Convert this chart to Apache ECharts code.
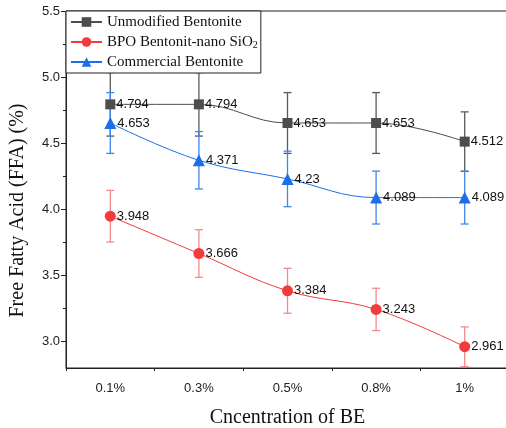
<!DOCTYPE html>
<html>
    <head>
        <meta charset="utf-8">
        <script src="https://cdn.jsdelivr.net/npm/echarts@6/dist/echarts.min.js"></script>
        <style>
            html, body { margin: 0; padding: 0; background: #fff; }
            #main { width: 506px; height: 428px; }
        </style>
    </head>
    <body>
        <div id="main"></div>
        <script>
            var categories = ['0.1%', '0.3%', '0.5%', '0.8%', '1%'];
            var unmodified = [4.794, 4.794, 4.653, 4.653, 4.512];
            var bpo = [3.948, 3.666, 3.384, 3.243, 2.961];
            var commercial = [4.653, 4.371, 4.23, 4.089, 4.089];
            var unmodifiedErr = [0.24, 0.24, 0.23, 0.23, 0.225];
            var bpoErr = [0.195, 0.18, 0.17, 0.16, 0.15];
            var commercialErr = [0.23, 0.217, 0.21, 0.2, 0.2];
            var majorY = [3.0, 3.5, 4.0, 4.5, 5.0, 5.5];
            var minorY = [3.25, 3.75, 4.25, 4.75, 5.25];

            var serif = '"Liberation Serif", "Times New Roman", serif';
            var sans = '"Liberation Sans", Arial, sans-serif';

            function errData(vals, errs) {
                return vals.map(function (v, i) {
                    return [i, v - errs[i], v + errs[i]];
                });
            }

            function errSeries(vals, errs, color) {
                return {
                    type: 'custom',
                    data: errData(vals, errs),
                    encode: {x: 0, y: [1, 2]},
                    z: 1,
                    silent: true,
                    renderItem: function (params, api) {
                        var lo = api.coord([api.value(0), api.value(1)]);
                        var hi = api.coord([api.value(0), api.value(2)]);
                        var style = {stroke: color, lineWidth: 1.3};
                        var w = 4;
                        return {
                            type: 'group',
                            children: [
                                {type: 'line', shape: {x1: lo[0], y1: lo[1], x2: hi[0], y2: hi[1]}, style: style},
                                {type: 'line', shape: {x1: lo[0] - w, y1: lo[1], x2: lo[0] + w, y2: lo[1]}, style: style},
                                {type: 'line', shape: {x1: hi[0] - w, y1: hi[1], x2: hi[0] + w, y2: hi[1]}, style: style}
                            ]
                        };
                    }
                };
            }

            function lineSeries(name, vals, color, symbol, size) {
                return {
                    name: name,
                    type: 'line',
                    data: vals,
                    smooth: 0.4,
                    symbol: symbol,
                    symbolSize: size,
                    z: 3,
                    itemStyle: {color: color},
                    lineStyle: {color: color, width: 1},
                    label: {
                        show: true,
                        position: 'right',
                        distance: 1,
                        fontFamily: sans,
                        fontSize: 13,
                        color: '#111'
                    }
                };
            }

            var chart = echarts.init(document.getElementById('main'));

            chart.setOption({
                animation: false,
                grid: {
                    left: 66, top: 11, right: -3, bottom: 60,
                    containLabel: false,
                    outerBoundsMode: 'none',
                    show: true, borderColor: '#222', borderWidth: 1
                },
                legend: {
                    data: ['Unmodified Bentonite', 'BPO Bentonit-nano SiO2', 'Commercial Bentonite'],
                    orient: 'vertical',
                    left: 66,
                    top: 11,
                    padding: [3, 3, 3, 4],
                    itemGap: 4,
                    itemWidth: 31,
                    itemHeight: 12,
                    backgroundColor: '#fff',
                    borderColor: '#222',
                    borderWidth: 1,
                    borderRadius: 0,
                    z: 10,
                    formatter: function (name) {
                        if (name === 'BPO Bentonit-nano SiO2') {
                            return 'BPO Bentonit-nano SiO{sub|2}';
                        }
                        return name;
                    },
                    textStyle: {
                        fontFamily: serif,
                        fontSize: 15,
                        lineHeight: 16,
                        color: '#111',
                        rich: {
                            sub: {fontFamily: serif, fontSize: 10, lineHeight: 16, color: '#111', padding: [6, 0, 0, 0]}
                        }
                    }
                },
                xAxis: [{
                    type: 'category',
                    data: categories,
                    boundaryGap: true,
                    name: 'Cncentration of BE',
                    nameLocation: 'middle',
                    nameGap: 40,
                    nameTextStyle: {fontFamily: serif, fontSize: 20, color: '#111'},
                    axisLine: {lineStyle: {color: '#222', width: 1}},
                    axisTick: {alignWithLabel: true, length: 5, lineStyle: {color: '#222'}},
                    axisLabel: {fontFamily: sans, fontSize: 13, color: '#222', margin: 14},
                    splitLine: {show: false}
                }, {
                    type: 'category',
                    data: categories,
                    boundaryGap: true,
                    position: 'bottom',
                    axisLine: {show: false},
                    axisTick: {show: true, length: 3, lineStyle: {color: '#222'}},
                    axisLabel: {show: false},
                    splitLine: {show: false}
                }],
                yAxis: [{
                    type: 'value',
                    min: 2.8,
                    max: 5.5,
                    name: 'Free Fatty Acid (FFA) (%)',
                    nameLocation: 'middle',
                    nameGap: 38,
                    nameTextStyle: {fontFamily: serif, fontSize: 20, color: '#111', padding: [0, 42, 0, 0]},
                    axisLine: {show: true, lineStyle: {color: '#222', width: 1}},
                    axisTick: {show: true, length: 5, customValues: majorY, lineStyle: {color: '#222'}},
                    axisLabel: {
                        customValues: majorY,
                        fontFamily: sans, fontSize: 13, color: '#222', margin: 6,
                        formatter: function (v) { return v.toFixed(1); }
                    },
                    splitLine: {show: false}
                }, {
                    type: 'value',
                    min: 2.8,
                    max: 5.5,
                    position: 'left',
                    axisLine: {show: false},
                    axisTick: {show: true, length: 3, customValues: minorY, lineStyle: {color: '#222'}},
                    axisLabel: {show: false},
                    splitLine: {show: false}
                }],
                series: [
                    errSeries(unmodified, unmodifiedErr, '#5a5a5a'),
                    errSeries(bpo, bpoErr, '#f58a8a'),
                    errSeries(commercial, commercialErr, '#3f86ea'),
                    lineSeries('Unmodified Bentonite', unmodified, '#4d4d4d', 'rect', 10),
                    lineSeries('BPO Bentonit-nano SiO2', bpo, '#f23b3b', 'circle', 11),
                    lineSeries('Commercial Bentonite', commercial, '#1c6fe6', 'triangle', 12)
                ]
            });
        </script>
    </body>
</html>
